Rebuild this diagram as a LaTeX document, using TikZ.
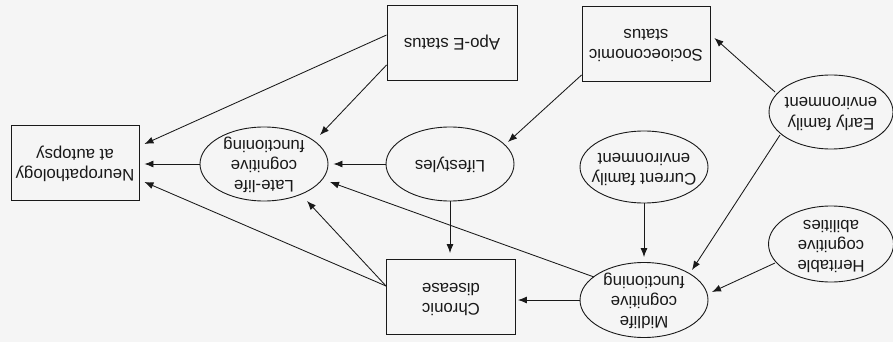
\documentclass[tikz,border=0pt]{standalone}
\usepackage{graphicx}
\usepackage{fontspec}
\setmainfont{Liberation Sans}
\usetikzlibrary{shapes.geometric,arrows.meta}
\newcommand\ud[1]{\rotatebox{180}{\begin{tabular}{@{}c@{}}#1\end{tabular}}}
\begin{document}
\begin{tikzpicture}[x=1pt,y=-1pt,
  every node/.style={font=\fontsize{16.8}{20}\selectfont, text=black!90},
  box/.style={draw=black!90, line width=0.9pt, rectangle, inner sep=0pt, minimum width=128pt, minimum height=75pt},
  oval/.style={draw=black!90, line width=0.9pt, ellipse, inner sep=0pt, minimum width=128pt, minimum height=74pt},
  arr/.style={draw=black!90, -{Latex[length=9pt,width=7pt]}, line width=0.85pt}
]
\path[fill=black!4] (0,0) rectangle (893,342);
\useasboundingbox (0,0) rectangle (893,342);

% nodes
\node[box] (neuro) at (75,163) {\ud{Neuropathology\\at autopsy}};
\node[oval, label={center:\ud{Late-life\\cognitive\\functioning}}] (late) at (264,164) {};
\node[box, minimum width=130pt] (apo) at (452,43) {\ud{Apo-E status}};
\node[oval] (life) at (450,164) {};
\node at (life.center) {\ud{Lifestyles}};
\node[box, minimum width=129pt] (chronic) at (451,297) {\ud{Chronic\\disease}};
\node[box] (socio) at (646,44) {\ud{Socioeconomic\\status}};
\node[oval, minimum height=72pt, label={center:\ud{Current family\\environment}}] (current) at (644,167) {};
\node[oval, minimum height=75pt, label={center:\ud{Midlife\\cognitive\\functioning}}] (midlife) at (644,300) {};
\node[oval, minimum width=124pt, label={center:\ud{Early family\\environment}}] (early) at (831,112) {};
\node[oval, minimum width=125pt, minimum height=76pt, label={center:\ud{Heritable\\cognitive\\abilities}}] (herit) at (831,244) {};

% connectors
\draw[arr] ([yshift=8pt]apo.west) -- ([xshift=5pt,yshift=19pt]neuro.east);
\draw[arr] ([yshift=-22pt]apo.west) -- ([xshift=56pt,yshift=29pt]late.center);
\draw[arr, shorten >=5pt] (late.west) -- (late.west -| neuro.east);
\draw[arr, shorten >=5pt] (life.west) -- (late.east);
\draw[arr] ([yshift=11pt]chronic.west) -- ([xshift=43pt,yshift=-37pt]late.center);
\draw[arr] ([yshift=11pt]chronic.west) -- ([xshift=5pt,yshift=-19pt]neuro.east);
\draw[arr] ([xshift=-50pt,yshift=23pt]midlife.center) -- ([xshift=66pt,yshift=-18pt]late.center);
\draw[arr, shorten >=6pt] (life.south) -- (life.south |- chronic.north);
\draw[arr] ([yshift=-31pt]socio.west) -- ([xshift=58pt,yshift=22pt]life.center);
\draw[arr, shorten >=5pt] (current.south) -- (current.south |- midlife.north);
\draw[arr, shorten >=2pt] (midlife.west) -- (midlife.west -| chronic.east);
\draw[arr] ([xshift=-56pt,yshift=20pt]early.center) -- ([xshift=4pt,yshift=6pt]socio.east);
\draw[arr] ([xshift=-51pt,yshift=-23pt]early.center) -- ([xshift=48pt,yshift=30pt]midlife.center);
\draw[arr] ([xshift=-56pt,yshift=-19pt]herit.center) -- ([xshift=68pt,yshift=8pt]midlife.center);
\end{tikzpicture}
\end{document}
